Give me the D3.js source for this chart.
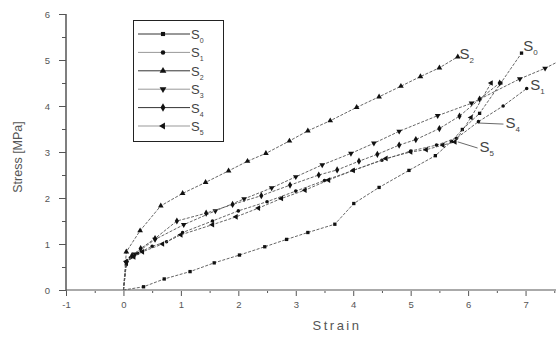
<!DOCTYPE html>
<html>
<head>
<meta charset="utf-8">
<script src="https://cdn.jsdelivr.net/npm/d3@7"></script>
<style>
  body { margin: 0; background: #fff; }
  svg text { font-family: "Liberation Sans", Arial, sans-serif; }
</style>
</head>
<body>
<div id="container"></div>
<script>
// stress-strain curves, values
var seriesNames = ["0", "1", "2", "3", "4", "5"];

var s0x = [0, 0.35, 0.71, 1.16, 1.58, 2.02, 2.46, 2.84, 3.21, 3.68, 4.01, 4.45, 4.97, 5.43, 5.71, 5.9, 6.2, 6.57, 6.93];
var s0y = [0, 0.07, 0.24, 0.4, 0.59, 0.76, 0.94, 1.1, 1.25, 1.43, 1.88, 2.23, 2.6, 2.92, 3.23, 3.49, 3.84, 4.5, 5.15];

var s1x = [0, 0.05, 0.12, 0.25, 0.5, 0.75, 1.03, 1.55, 2.0, 2.5, 3.0, 3.5, 4.0, 4.5, 5.0, 5.45, 5.8, 6.18, 6.61, 7.02];
var s1y = [0, 0.55, 0.7, 0.8, 0.95, 1.05, 1.25, 1.5, 1.72, 1.92, 2.15, 2.38, 2.6, 2.82, 3.02, 3.15, 3.3, 3.66, 4.0, 4.38];

var s2x = [0, 0.05, 0.29, 0.65, 1.03, 1.43, 1.83, 2.16, 2.48, 2.89, 3.21, 3.6, 4.06, 4.45, 4.83, 5.17, 5.5, 5.82];
var s2y = [0, 0.83, 1.29, 1.83, 2.1, 2.34, 2.59, 2.8, 2.97, 3.24, 3.46, 3.68, 3.97, 4.2, 4.43, 4.64, 4.83, 5.07];

var s3x = [0, 0.05, 0.2, 0.55, 1.05, 1.6, 2.1, 2.58, 3.0, 3.46, 3.96, 4.36, 4.8, 5.47, 6.06, 6.9, 7.34, 7.7];
var s3y = [0, 0.6, 0.78, 1.1, 1.42, 1.72, 1.98, 2.22, 2.46, 2.72, 2.97, 3.19, 3.45, 3.79, 4.06, 4.59, 4.82, 5.05];

var s4x = [0, 0.05, 0.15, 0.3, 0.55, 0.93, 1.44, 1.9, 2.4, 2.9, 3.4, 3.72, 4.1, 4.42, 4.8, 5.09, 5.5, 5.85, 6.2, 6.55];
var s4y = [0, 0.6, 0.75, 0.9, 1.12, 1.5, 1.67, 1.86, 2.05, 2.28, 2.5, 2.61, 2.8, 2.95, 3.15, 3.27, 3.51, 3.78, 4.15, 4.5];

var s5x = [0, 0.05, 0.18, 0.33, 0.68, 1.0, 1.55, 1.96, 2.35, 2.75, 3.16, 3.57, 4.0, 4.57, 5.0, 5.27, 5.56, 5.77, 6.05, 6.4];
var s5y = [0, 0.62, 0.72, 0.83, 1.0, 1.2, 1.42, 1.59, 1.78, 1.99, 2.17, 2.39, 2.6, 2.86, 3.0, 3.05, 3.15, 3.22, 3.75, 4.5];

var xTicks = [-1, 0, 1, 2, 3, 4, 5, 6, 7];
var yTicks = [0, 1, 2, 3, 4, 5, 6];

// curve labels: series, x, y (data units) and leader line start
var curveLabels = [
  { s: "2", x: 5.85, y: 5.02 },
  { s: "0", x: 6.96, y: 5.2 },
  { s: "1", x: 7.08, y: 4.35 },
  { s: "4", x: 6.65, y: 3.52, lx: 6.18, ly: 3.63 },
  { s: "5", x: 6.2, y: 3.0, lx: 5.82, ly: 3.22 }
];

var width = 556, height = 338;

var svg = d3.select("#container").append("svg")
  .attr("width", width).attr("height", height);

var x = d3.scaleLinear().domain([-1, 7.53]).range([66, 556]);
var y = d3.scaleLinear().domain([0, 6]).range([290, 14]);

svg.append("clipPath").attr("id", "plot")
  .append("rect").attr("x", 66).attr("y", 0).attr("width", 490).attr("height", 292);

// axes
var fmt = function(d){ return String(d); };
var xAxis = d3.axisBottom(x).tickValues(xTicks).tickSize(6).tickPadding(5).tickFormat(fmt);
var xMinor = d3.axisBottom(x).tickValues(d3.range(-0.5, 7.6, 1)).tickSize(3).tickFormat("");
var yAxis = d3.axisLeft(y).tickValues(yTicks).tickSize(7).tickPadding(9).tickFormat(fmt);
var yMinor = d3.axisLeft(y).tickValues(d3.range(0.5, 6, 1)).tickSize(4).tickFormat("");

svg.append("g").attr("transform", "translate(0,290)").call(xAxis);
svg.append("g").attr("transform", "translate(0,290)").call(xMinor);
svg.append("g").attr("transform", "translate(66,0)").call(yAxis);
svg.append("g").attr("transform", "translate(66,0)").call(yMinor);

svg.selectAll(".domain").remove();
svg.selectAll(".tick line").attr("stroke", "#555");
svg.selectAll(".tick text").attr("fill", "#555").style("font-size", "9.5px");

svg.append("line").attr("x1", 66).attr("x2", 556).attr("y1", 290).attr("y2", 290)
  .attr("stroke", "#aaa").attr("stroke-width", 2);
svg.append("line").attr("x1", 66).attr("x2", 66).attr("y1", 14).attr("y2", 291)
  .attr("stroke", "#555").attr("stroke-width", 1.5);

// axis titles
svg.append("text").attr("x", 337).attr("y", 330).attr("text-anchor", "middle")
  .style("font-size", "13px").style("letter-spacing", "2.5px").attr("fill", "#555").text("Strain");
svg.append("text").attr("transform", "translate(22,157) rotate(-90)").attr("text-anchor", "middle")
  .style("font-size", "12.5px").attr("fill", "#555").text("Stress [MPa]");

// series
var series = [
  { name: "0", xs: s0x, ys: s0y, sym: d3.symbolSquare, size: 11, rot: 0 },
  { name: "1", xs: s1x, ys: s1y, sym: d3.symbolCircle, size: 10, rot: 0 },
  { name: "2", xs: s2x, ys: s2y, sym: d3.symbolTriangle, size: 14, rot: 0 },
  { name: "3", xs: s3x, ys: s3y, sym: d3.symbolTriangle, size: 14, rot: 180 },
  { name: "4", xs: s4x, ys: s4y, sym: d3.symbolDiamond, size: 15, rot: 0 },
  { name: "5", xs: s5x, ys: s5y, sym: d3.symbolTriangle, size: 14, rot: -90 }
];

var line = d3.line().x(function(d){ return x(d[0]); }).y(function(d){ return y(d[1]); });
var plot = svg.append("g").attr("clip-path", "url(#plot)");

series.forEach(function(s){
  var pts = s.xs.map(function(v, i){ return [v, s.ys[i]]; });
  plot.append("path").datum(pts).attr("d", line)
    .attr("fill", "none").attr("stroke", "#555").attr("stroke-width", 0.9)
    .attr("stroke-dasharray", "3,1.5");
  plot.selectAll(null).data(pts.slice(1)).enter().append("path")
    .attr("d", d3.symbol().type(s.sym).size(s.size))
    .attr("transform", function(d){ return "translate(" + x(d[0]) + "," + y(d[1]) + ") rotate(" + s.rot + ")"; })
    .attr("fill", "#111");
});

// curve labels with subscripts
curveLabels.forEach(function(c){
  if (c.lx !== undefined) {
    svg.append("line").attr("x1", x(c.lx)).attr("y1", y(c.ly))
      .attr("x2", x(c.x) - 2).attr("y2", y(c.y) - 4)
      .attr("stroke", "#444").attr("stroke-width", 0.8);
  }
  var t = svg.append("text").attr("x", x(c.x)).attr("y", y(c.y))
    .attr("fill", "#444").style("font-size", "15px").text("S");
  t.append("tspan").attr("dy", 4).style("font-size", "8px").text(c.s);
});

// legend
var legend = svg.append("g");
legend.append("rect").attr("x", 133.5).attr("y", 20.5).attr("width", 90).attr("height", 121)
  .attr("fill", "#fff").attr("stroke", "#222").attr("stroke-width", 1);
series.forEach(function(s, i){
  var ly = 34 + i * 18.4;
  legend.append("line").attr("x1", 138).attr("x2", 190).attr("y1", ly).attr("y2", ly)
    .attr("stroke", i % 2 ? "#999" : "#333").attr("stroke-width", 1);
  legend.append("path").attr("d", d3.symbol().type(s.sym).size(s.size + 6))
    .attr("transform", "translate(163," + ly + ") rotate(" + s.rot + ")").attr("fill", "#111");
  var t = legend.append("text").attr("x", 191).attr("y", ly + 5)
    .attr("fill", "#444").style("font-size", "13px").text("S");
  t.append("tspan").attr("dy", 4).style("font-size", "7px").text(s.name);
});
</script>
</body>
</html>
